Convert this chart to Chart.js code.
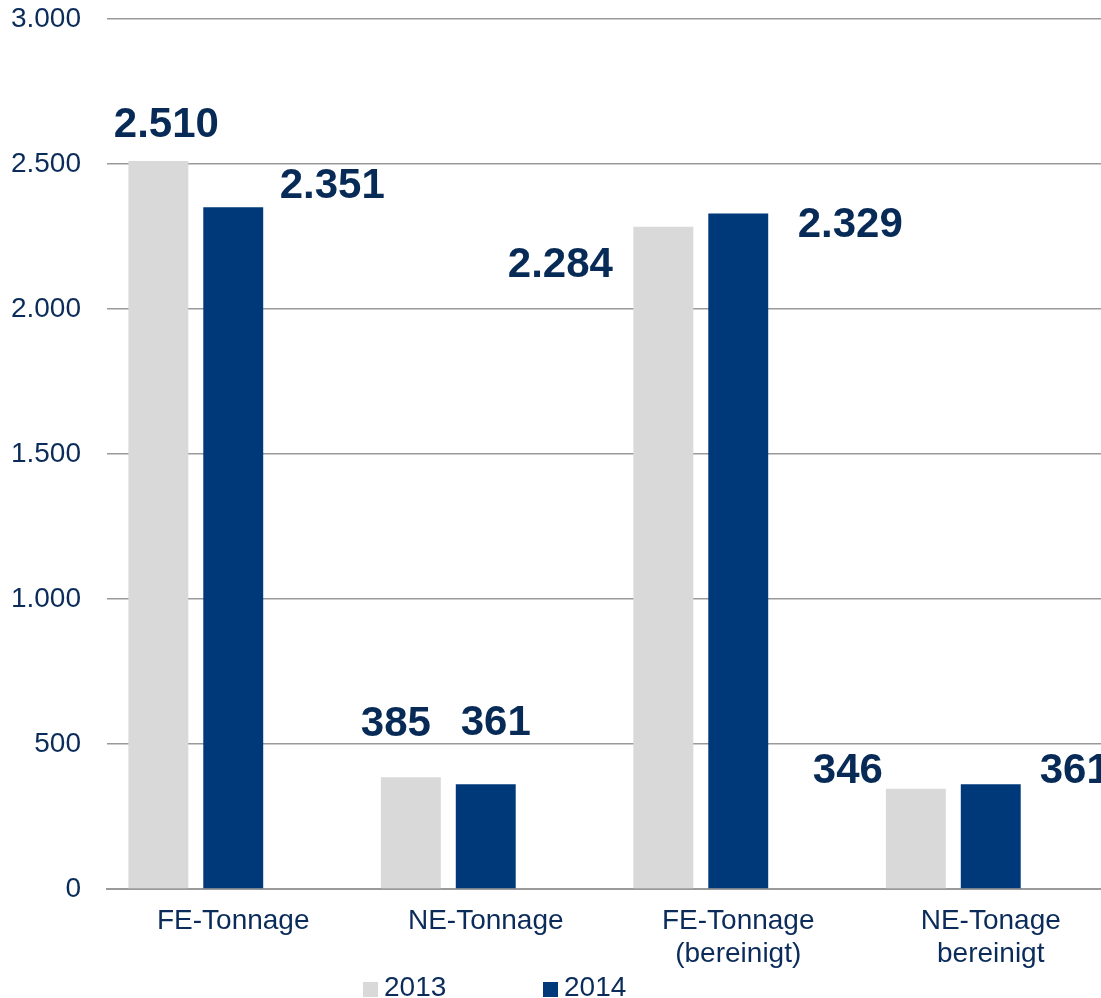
<!DOCTYPE html>
<html>
<head>
<meta charset="utf-8">
<script src="https://cdn.jsdelivr.net/npm/chart.js@4/dist/chart.umd.min.js"></script>
<style>
  html, body { margin: 0; padding: 0; background: #fff; overflow: hidden; }
  #wrap { width: 1101px; height: 998px; overflow: hidden; }
</style>
</head>
<body>
<div id="wrap"><canvas id="chart" width="1117" height="998"></canvas></div>
<script>
const categories = [
    ["FE-Tonnage"],
    ["NE-Tonnage"],
    ["FE-Tonnage", "(bereinigt)"],
    ["NE-Tonage", "bereinigt"]
];
const seriesNames = ["2013", "2014"];
const values2013 = [2510, 385, 2284, 346];
const values2014 = [2351, 361, 2329, 361];
const yTicks = [0, 500, 1000, 1500, 2000, 2500, 3000];

// label offsets from bar centre / bar top (the original labels were placed by hand)
const labelDx = [[8, -15, -103, -68], [99, 10, 112, 84]];
const labelDy = [[-36, -53, 39, -17], [-21, -61, 12, -13]];

const textColor = "#0b2c5a";
const labelColor = "#072a56";
const gray = "#d9d9d9";
const blue = "#00397a";
const gridColor = "#9a9a9a";

function fmt(v) {
    return String(v).replace(/\B(?=(\d{3})+(?!\d))/g, ".");
}

const valueLabels = {
    id: "valueLabels",
    afterDatasetsDraw(chart) {
        const ctx = chart.ctx;
        ctx.save();
        ctx.font = "bold 42px 'Liberation Sans', Arial, sans-serif";
        ctx.fillStyle = labelColor;
        ctx.textAlign = "center";
        ctx.textBaseline = "middle";
        [0, 1].forEach(i => {
            const meta = chart.getDatasetMeta(i);
            meta.data.forEach((bar, j) => {
                const v = chart.data.datasets[i].data[j];
                ctx.fillText(fmt(v), bar.x + labelDx[i][j], bar.y + labelDy[i][j]);
            });
        });
        ctx.restore();
    }
};

const bottomLegend = {
    id: "bottomLegend",
    afterDraw(chart) {
        const ctx = chart.ctx;
        ctx.save();
        ctx.font = "28px 'Liberation Sans', Arial, sans-serif";
        ctx.textBaseline = "middle";
        ctx.textAlign = "left";
        [0, 1].forEach(i => {
            const ds = chart.data.datasets[i];
            const x = 363 + i * 180;
            ctx.fillStyle = ds.backgroundColor;
            ctx.fillRect(x, 982, 15, 15);
            ctx.fillStyle = textColor;
            ctx.fillText(ds.label, x + 21, 988);
        });
        ctx.restore();
    }
};

const ctx = document.getElementById("chart").getContext("2d");
new Chart(ctx, {
    type: "bar",
    data: {
        labels: categories,
        datasets: [
            { label: seriesNames[0], data: values2013, backgroundColor: gray },
            { label: seriesNames[1], data: values2014, backgroundColor: blue },
            { label: "", data: categories.map(() => null), backgroundColor: "rgba(0,0,0,0)" }
        ]
    },
    options: {
        responsive: false,
        animation: false,
        layout: { padding: { top: 19, left: 0, right: 0, bottom: 0 } },
        datasets: { bar: { categoryPercentage: 0.89, barPercentage: 0.8 } },
        plugins: { legend: { display: false }, tooltip: { enabled: false } },
        scales: {
            x: {
                grid: { display: false, drawTicks: false },
                border: { display: true, color: gridColor, width: 2 },
                ticks: {
                    color: textColor,
                    padding: 16,
                    maxRotation: 0,
                    autoSkip: false,
                    font: { family: "'Liberation Sans', Arial, sans-serif", size: 28, lineHeight: 1.18 }
                },
                afterFit: s => { s.height = 109; s.paddingLeft = 0; s.paddingRight = 0; }
            },
            y: {
                min: 0,
                max: 3000,
                afterBuildTicks: s => { s.ticks = yTicks.map(v => ({ value: v })); },
                grid: { color: gridColor, lineWidth: 1.5, drawTicks: false },
                border: { display: false },
                ticks: {
                    color: textColor,
                    padding: 26,
                    font: { family: "'Liberation Sans', Arial, sans-serif", size: 28 },
                    callback: v => fmt(v)
                },
                afterFit: s => { s.width = 107; s.paddingTop = 0; s.paddingBottom = 0; }
            }
        }
    },
    plugins: [valueLabels, bottomLegend]
});
</script>
</body>
</html>
